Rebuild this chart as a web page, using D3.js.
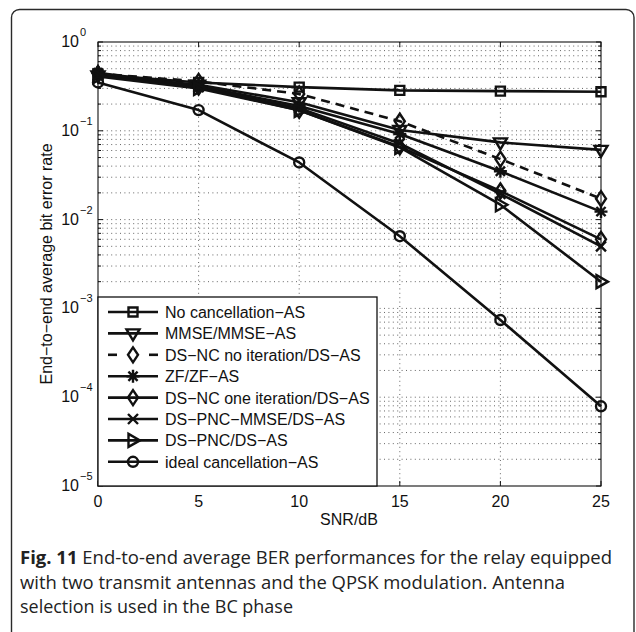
<!DOCTYPE html>
<html>
<head>
<meta charset="utf-8">
<script src="https://cdn.jsdelivr.net/npm/d3@7/dist/d3.min.js"></script>
<style>
  html, body { margin: 0; padding: 0; background: #fff; }
  svg { display: block; }
</style>
</head>
<body>
<svg id="fig" width="636" height="632"></svg>
<script>
// SNR points (dB)
const snr = [0, 5, 10, 15, 20, 25];

// End-to-end average BER for each scheme
const noCancellation   = [0.43, 0.35, 0.31, 0.285, 0.28, 0.275];
const mmseMmse         = [0.42, 0.33, 0.21, 0.102, 0.074, 0.061];
const dsncNoIteration  = [0.44, 0.36, 0.26, 0.128, 0.048, 0.0172];
const zfZf             = [0.45, 0.32, 0.19, 0.092, 0.035, 0.0123];
const dsncOneIteration = [0.44, 0.31, 0.17, 0.066, 0.021, 0.006];
const dspncMmse        = [0.42, 0.31, 0.18, 0.072, 0.0195, 0.005];
const dspnc            = [0.41, 0.30, 0.17, 0.065, 0.0147, 0.002];
const idealCancel      = [0.35, 0.171, 0.044, 0.0065, 0.00074, 0.000079];

const seriesLabels = [
  "No cancellation\u2212AS",
  "MMSE/MMSE\u2212AS",
  "DS\u2212NC no iteration/DS\u2212AS",
  "ZF/ZF\u2212AS",
  "DS\u2212NC one iteration/DS\u2212AS",
  "DS\u2212PNC\u2212MMSE/DS\u2212AS",
  "DS\u2212PNC/DS\u2212AS",
  "ideal cancellation\u2212AS"
];
const seriesMarkers = ["square", "triangleDown", "diamond", "asterisk", "diamond", "cross", "triangleRight", "circle"];
const seriesDashed  = [false, false, true, false, false, false, false, false];
const seriesValues  = [noCancellation, mmseMmse, dsncNoIteration, zfZf, dsncOneIteration, dspncMmse, dspnc, idealCancel];

// Axis ticks
const xTicks = [0, 5, 10, 15, 20, 25];
const yTickExponents = [0, -1, -2, -3, -4, -5];

const xLabel = "SNR/dB";
const yLabel = "End\u2212to\u2212end average bit error rate";

const captionBold = "Fig. 11";
const captionLines = [
  " End-to-end average BER performances for the relay equipped",
  "with two transmit antennas and the QPSK modulation. Antenna",
  "selection is used in the BC phase"
];

// ---- layout ----
const plot = { left: 98, right: 601, top: 42, bottom: 486 };
const svg = d3.select("#fig");

// outer figure frame
svg.append("rect")
  .attr("x", 11.5).attr("y", 9.5)
  .attr("width", 622.5).attr("height", 660)
  .attr("rx", 8).attr("ry", 8)
  .attr("fill", "#fff").attr("stroke", "#2a2a2a").attr("stroke-width", 1.4);

const x = d3.scaleLinear().domain([0, 25]).range([plot.left, plot.right]);
const y = d3.scaleLog().domain([1e-5, 1]).range([plot.bottom, plot.top]);

const g = svg.append("g");
const dotted = { stroke: "#555", width: 0.9, dash: "1,3.4" };

// minor + major log grid (horizontal)
const yGrid = [];
yTickExponents.forEach(e => {
  for (let m = 1; m <= 9; m++) {
    const v = m * Math.pow(10, e);
    if (v <= 1 && v >= 1e-5) yGrid.push(v);
  }
});
g.append("g").selectAll("line").data(yGrid.filter(v => v < 1 && v > 1e-5)).join("line")
  .attr("x1", plot.left).attr("x2", plot.right)
  .attr("y1", d => y(d)).attr("y2", d => y(d))
  .attr("stroke", dotted.stroke).attr("stroke-width", dotted.width)
  .attr("stroke-dasharray", dotted.dash);

// vertical grid at major x ticks
g.append("g").selectAll("line").data(xTicks.filter(v => v > 0 && v < 25)).join("line")
  .attr("x1", d => x(d)).attr("x2", d => x(d))
  .attr("y1", plot.top).attr("y2", plot.bottom)
  .attr("stroke", dotted.stroke).attr("stroke-width", dotted.width)
  .attr("stroke-dasharray", dotted.dash);

// axis box
g.append("rect")
  .attr("x", plot.left).attr("y", plot.top)
  .attr("width", plot.right - plot.left).attr("height", plot.bottom - plot.top)
  .attr("fill", "none").attr("stroke", "#111").attr("stroke-width", 1.1);

// inward ticks on all four sides
const tickG = g.append("g").attr("stroke", "#111").attr("stroke-width", 1);
xTicks.forEach(t => {
  tickG.append("line").attr("x1", x(t)).attr("x2", x(t)).attr("y1", plot.bottom).attr("y2", plot.bottom - 5);
  tickG.append("line").attr("x1", x(t)).attr("x2", x(t)).attr("y1", plot.top).attr("y2", plot.top + 5);
});
yGrid.forEach(v => {
  const isMajor = Math.abs(Math.log10(v) - Math.round(Math.log10(v))) < 1e-9;
  const len = isMajor ? 5 : 3;
  tickG.append("line").attr("x1", plot.left).attr("x2", plot.left + len).attr("y1", y(v)).attr("y2", y(v));
  tickG.append("line").attr("x1", plot.right).attr("x2", plot.right - len).attr("y1", y(v)).attr("y2", y(v));
});

const font = "'Liberation Sans', Arial, Helvetica, sans-serif";

// x tick labels
g.append("g").selectAll("text").data(xTicks).join("text")
  .attr("x", d => x(d)).attr("y", 507)
  .attr("text-anchor", "middle")
  .attr("font-family", font).attr("font-size", 16).attr("fill", "#111")
  .text(d => d);

// y tick labels as 10^e
const yLab = g.append("g").attr("font-family", font).attr("fill", "#111");
yTickExponents.forEach(e => {
  const ty = y(Math.pow(10, e));
  yLab.append("text").attr("x", 79).attr("y", ty + 5)
    .attr("text-anchor", "end").attr("font-size", 16).text("10");
  yLab.append("text").attr("x", 80).attr("y", ty - 6)
    .attr("text-anchor", "start").attr("font-size", 11)
    .text(e === 0 ? "0" : "\u2212" + Math.abs(e));
});

// axis titles
g.append("text").attr("x", 349).attr("y", 525)
  .attr("text-anchor", "middle").attr("font-family", font).attr("font-size", 16).attr("fill", "#111")
  .text(xLabel);
g.append("text")
  .attr("transform", `translate(52,${(plot.top + plot.bottom) / 2}) rotate(-90)`)
  .attr("text-anchor", "middle").attr("font-family", font).attr("font-size", 16).attr("fill", "#111")
  .text(yLabel);

// ---- marker shapes ----
function markerPath(kind) {
  switch (kind) {
    case "square": return "M-4.5,-4.5H4.5V4.5H-4.5Z";
    case "triangleDown": return "M-6.5,-4L6.5,-4L0,7Z";
    case "triangleRight": return "M-4.5,-6.5L7,0L-4.5,6.5Z";
    case "diamond": return "M0,-7.5L5,0L0,7.5L-5,0Z";
    case "cross": return "M-5,-5L5,5M-5,5L5,-5";
    case "asterisk": return "M0,-6.5V6.5M-6.5,0H6.5M-4.6,-4.6L4.6,4.6M-4.6,4.6L4.6,-4.6";
    case "circle": return d3.arc()({ innerRadius: 0, outerRadius: 5, startAngle: 0, endAngle: 2 * Math.PI });
  }
}

const line = d3.line().x((d, i) => x(snr[i])).y(d => y(d));
const dataG = g.append("g");
seriesValues.forEach((vals, s) => {
  dataG.append("path")
    .attr("d", line(vals))
    .attr("fill", "none").attr("stroke", "#111").attr("stroke-width", 2.6)
    .attr("stroke-linejoin", "round")
    .attr("stroke-dasharray", seriesDashed[s] ? "9,6" : null);
});
seriesValues.forEach((vals, s) => {
  dataG.append("g").selectAll("path").data(vals).join("path")
    .attr("transform", (d, i) => `translate(${x(snr[i])},${y(d)})`)
    .attr("d", markerPath(seriesMarkers[s]))
    .attr("fill", "none").attr("stroke", "#111").attr("stroke-width", 2.4);
});

// ---- legend ----
const legend = { x: 98, y: 297, w: 279, h: 189, row: 21.4, first: 312 };
const lg = g.append("g");
lg.append("rect")
  .attr("x", legend.x).attr("y", legend.y).attr("width", legend.w).attr("height", legend.h)
  .attr("fill", "#fff").attr("stroke", "#111").attr("stroke-width", 1.3);
seriesLabels.forEach((label, s) => {
  const ly = legend.first + s * legend.row;
  if (seriesDashed[s]) {
    lg.append("line").attr("x1", 108).attr("x2", 117).attr("y1", ly).attr("y2", ly)
      .attr("stroke", "#111").attr("stroke-width", 2.6);
    lg.append("line").attr("x1", 149).attr("x2", 158).attr("y1", ly).attr("y2", ly)
      .attr("stroke", "#111").attr("stroke-width", 2.6);
  } else {
    lg.append("line").attr("x1", 108).attr("x2", 158).attr("y1", ly).attr("y2", ly)
      .attr("stroke", "#111").attr("stroke-width", 2.6);
  }
  lg.append("path").attr("transform", `translate(133,${ly})`)
    .attr("d", markerPath(seriesMarkers[s]))
    .attr("fill", "none").attr("stroke", "#111").attr("stroke-width", 2.4);
  lg.append("text").attr("x", 165).attr("y", ly + 6)
    .attr("font-family", font).attr("font-size", 16).attr("fill", "#111")
    .text(label);
});

// ---- caption ----
const capFont = "'Open Sans', 'Noto Sans', sans-serif";
const cap = svg.append("g").attr("font-family", capFont).attr("fill", "#222").attr("font-size", 17.5);
const capBaselines = [564, 589, 613];
const capEnds = [612, 565, 293];
const t0 = cap.append("text").attr("x", 20).attr("y", capBaselines[0])
  .attr("textLength", capEnds[0] - 20).attr("lengthAdjust", "spacingAndGlyphs");
t0.append("tspan").attr("font-weight", "bold").text(captionBold);
t0.append("tspan").text(captionLines[0]);
for (let i = 1; i < 3; i++) {
  cap.append("text").attr("x", 20).attr("y", capBaselines[i])
    .attr("textLength", capEnds[i] - 20).attr("lengthAdjust", "spacingAndGlyphs")
    .text(captionLines[i]);
}
</script>
</body>
</html>
